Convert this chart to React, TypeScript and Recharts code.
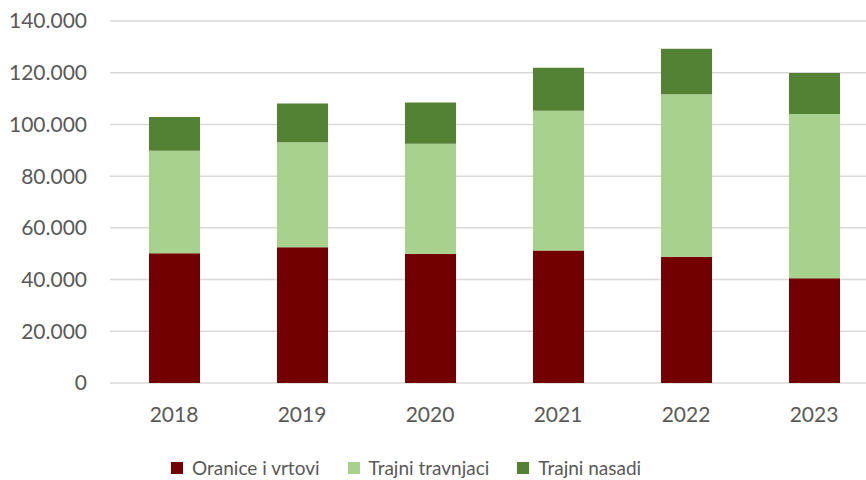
import React from 'react';
import { BarChart, Bar, XAxis, YAxis, CartesianGrid, Legend } from 'recharts';

// Land use by year (hectares)
const years = ['2018', '2019', '2020', '2021', '2022', '2023'];
const oranice = [50200, 52500, 50000, 51200, 48800, 40500];
const travnjaci = [39600, 40600, 42500, 54100, 62900, 63500];
const nasadi = [13100, 15000, 16000, 16600, 17600, 15900];
const yTicks = [0, 20000, 40000, 60000, 80000, 100000, 120000, 140000];

const seriesNames = ['Oranice i vrtovi', 'Trajni travnjaci', 'Trajni nasadi'];
const seriesColors = ['#720000', '#A9D18E', '#548235'];

const data = years.map((year, i) => ({
  year,
  oranice: oranice[i],
  travnjaci: travnjaci[i],
  nasadi: nasadi[i],
}));

const FONT = 'Lato, "Open Sans", sans-serif';
const TEXT = '#595959';

const formatThousands = (v: number) =>
  String(v).replace(/\B(?=(\d{3})+(?!\d))/g, '.');

// Legend keeps the stacking order of the series (bottom to top)
const renderLegend = (props: any) => {
  const payload = [...(props.payload || [])].sort(
    (a: any, b: any) => seriesNames.indexOf(a.value) - seriesNames.indexOf(b.value)
  );
  return (
    <div style={{ display: 'flex', alignItems: 'center', fontFamily: FONT, fontSize: 19, color: TEXT, whiteSpace: 'nowrap' }}>
      {payload.map((entry: any) => (
        <div key={entry.value} style={{ display: 'flex', alignItems: 'center', marginRight: 28 }}>
          <span style={{ display: 'inline-block', width: 12, height: 12, background: entry.color, marginRight: 9 }} />
          <span>{entry.value}</span>
        </div>
      ))}
    </div>
  );
};

export default function App() {
  return (
    <div style={{ position: 'fixed', left: 0, top: 0, width: 866, height: 480, overflow: 'hidden', background: '#fff' }}>
      <BarChart
        width={890}
        height={480}
        data={data}
        margin={{ top: 21, right: 12, bottom: 67, left: 0 }}
        barSize={51}
      >
        <CartesianGrid horizontal vertical={false} stroke="#D9D9D9" strokeWidth={1.5} />
        <XAxis
          dataKey="year"
          axisLine={false}
          tickLine={false}
          tickSize={0}
          tickMargin={24}
          height={30}
          tick={{ fill: TEXT, fontSize: 21, fontFamily: FONT }}
        />
        <YAxis
          width={110}
          domain={[0, 140000]}
          ticks={yTicks}
          axisLine={false}
          tickLine={false}
          tickSize={0}
          tickMargin={23}
          tickFormatter={formatThousands}
          tick={{ fill: TEXT, fontSize: 21, fontFamily: FONT }}
        />
        <Legend
          layout="horizontal"
          verticalAlign="middle"
          align="center"
          content={renderLegend}
          wrapperStyle={{ left: 171, top: 456, width: 'auto', height: 22 }}
        />
        <Bar dataKey="oranice" name={seriesNames[0]} stackId="a" fill={seriesColors[0]} isAnimationActive={false} />
        <Bar dataKey="travnjaci" name={seriesNames[1]} stackId="a" fill={seriesColors[1]} isAnimationActive={false} />
        <Bar dataKey="nasadi" name={seriesNames[2]} stackId="a" fill={seriesColors[2]} isAnimationActive={false} />
      </BarChart>
    </div>
  );
}
